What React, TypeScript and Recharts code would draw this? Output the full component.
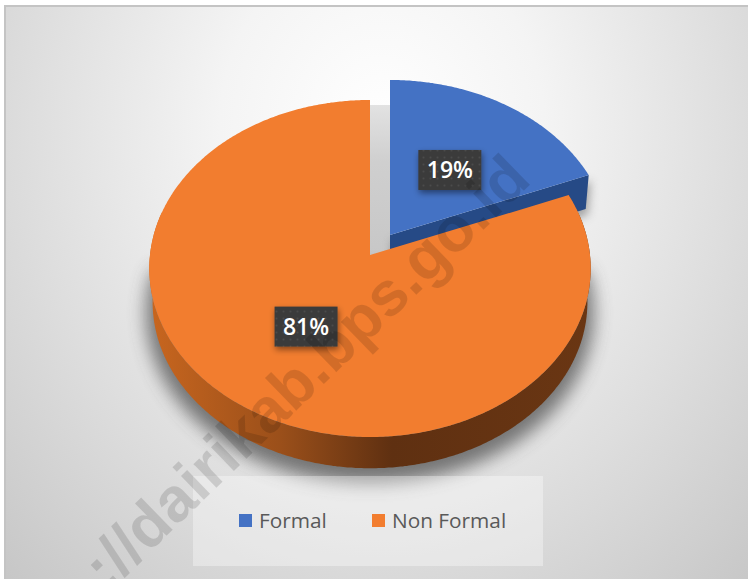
import React from "react";
import { PieChart, Pie, Legend } from "recharts";

const categories = ["Formal", "Non Formal"];
const shares = [19, 81];
const colors = ["#4472C4", "#F27D2F"];
const tableRows = categories.map((name, i) => ({ name, value: shares[i] }));

const WIDTH = 748;
const HEIGHT = 579;
const CX = 370;
const CY = 255;
const RADIUS = 220;
const TILT = 0.08;
const SQUASH = 0.761;
const DEPTH = 34;
const EXPLODE = { dx: 20, dy: -20 };

type Pt = [number, number];

const rad = (d: number) => (d * Math.PI) / 180;

// Perspective projection of a point of the disc (angle in degrees, f = radial share)
function project(x0: number, y0: number, r: number, deg: number, f = 1): Pt {
  const u = Math.cos(rad(deg)) * f;
  const v = Math.sin(rad(deg)) * f;
  const w = 1 + TILT * v;
  return [x0 + (r * u) / w, y0 - (r * SQUASH * v) / w];
}

function rim(x0: number, y0: number, r: number, from: number, to: number): Pt[] {
  const steps = Math.max(2, Math.ceil(Math.abs(to - from) * 2));
  const out: Pt[] = [];
  for (let i = 0; i <= steps; i++) out.push(project(x0, y0, r, from + ((to - from) * i) / steps));
  return out;
}

const toPath = (pts: Pt[]) =>
  pts.map((p, i) => `${i ? "L" : "M"}${p[0].toFixed(1)} ${p[1].toFixed(1)}`).join(" ") + " Z";

function Slice3D(props: any) {
  const { cx, cy, outerRadius, startAngle, endAngle, name } = props;
  const exploded = name === categories[0];
  const x0 = cx + (exploded ? EXPLODE.dx : 0);
  const y0 = cy + (exploded ? EXPLODE.dy : 0);
  const top = rim(x0, y0, outerRadius, startAngle, endAngle);
  const fill = colors[categories.indexOf(name)];

  if (exploded) {
    const corner = top[top.length - 1];
    const wall: Pt[] = [
      [x0, y0],
      corner,
      [corner[0] - 3, corner[1] + DEPTH],
      [x0, y0 + DEPTH],
    ];
    const gapTop = project(cx, cy, outerRadius, 90)[1] + 5;
    const gap: Pt[] = [
      [cx, gapTop],
      [x0, gapTop],
      [x0, y0 + DEPTH],
      [cx, cy + 4],
    ];
    return (
      <g>
        <defs>
          <filter id="blurA" x="-30%" y="-30%" width="160%" height="160%">
            <feGaussianBlur stdDeviation="5" />
          </filter>
          <linearGradient id="gapShade" x1="0" y1="0" x2="0" y2="1">
            <stop offset="0" stopColor="#e2e2e2" />
            <stop offset="0.35" stopColor="#cfcfcf" />
            <stop offset="1" stopColor="#c6c6c6" />
          </linearGradient>
        </defs>
        <path d={toPath(gap)} fill="url(#gapShade)" />
        <path d={toPath(wall)} fill="#555" opacity={0.5} filter="url(#blurA)" transform="translate(2 6)" />
        <path d={toPath(wall)} fill="#264A86" />
        <path d={toPath([[x0, y0], ...top])} fill={fill} />
      </g>
    );
  }

  const upper = rim(cx, cy, outerRadius, 165, 375);
  const lowerY = cy + DEPTH;
  const lowerR = outerRadius * 0.985;
  const lower = rim(cx, lowerY, lowerR, 375, 165);
  const shadow = rim(cx, lowerY + 10, lowerR * 1.03, 170, 370);
  return (
    <g>
      <defs>
        <filter id="blurB" x="-30%" y="-30%" width="160%" height="160%">
          <feGaussianBlur stdDeviation="9" />
        </filter>
        <linearGradient id="orangeWall" x1="0" y1="0" x2="1" y2="0">
          <stop offset="0" stopColor="#C8661F" />
          <stop offset="0.3" stopColor="#9A4F1A" />
          <stop offset="0.55" stopColor="#5F3011" />
          <stop offset="1" stopColor="#6A3613" />
        </linearGradient>
      </defs>
      <path d={toPath(shadow)} fill="#4a4a4a" opacity={0.72} filter="url(#blurB)" />
      <path d={toPath([...upper, ...lower])} fill="url(#orangeWall)" />
      <path d={toPath([[cx, cy], ...top])} fill={fill} />
    </g>
  );
}

function PercentLabel(props: any) {
  const { midAngle, percent, name } = props;
  const exploded = name === categories[0];
  const [x, y] = project(
    CX + (exploded ? EXPLODE.dx : 0),
    CY + (exploded ? EXPLODE.dy + 2 : 0),
    RADIUS,
    midAngle,
    0.5
  );
  const w = 63;
  const h = 40;
  return (
    <g>
      <defs>
        <pattern id="dots" width="7" height="7" patternUnits="userSpaceOnUse">
          <rect width="7" height="7" fill="#3B3B3B" />
          <circle cx="3.5" cy="3.5" r="1" fill="#4c4c4c" />
        </pattern>
        <filter id="boxShadow" x="-30%" y="-30%" width="160%" height="170%">
          <feDropShadow dx="1" dy="3" stdDeviation="3" floodColor="#000" floodOpacity="0.45" />
        </filter>
      </defs>
      <rect x={x - w / 2} y={y - h / 2} width={w} height={h} fill="url(#dots)" filter="url(#boxShadow)" />
      <text
        x={x}
        y={y + 8}
        textAnchor="middle"
        fontFamily="'Open Sans', 'Noto Sans', sans-serif"
        fontWeight={600}
        fontSize={23}
        fill="#FFFFFF"
      >
        {Math.round(percent * 100)}%
      </text>
    </g>
  );
}

function LegendBody({ payload }: any) {
  const iconX = [46, 179];
  const textX = [66, 199];
  return (
    <div style={{ position: "relative", width: 350, height: 90 }}>
      {(payload || []).map((item: any, i: number) => (
        <React.Fragment key={item.value}>
          <span
            style={{
              position: "absolute",
              left: iconX[i],
              top: 38,
              width: 13,
              height: 13,
              background: colors[categories.indexOf(item.value)],
            }}
          />
          <span
            style={{
              position: "absolute",
              left: textX[i],
              top: 29,
              fontFamily: "'Open Sans', 'Noto Sans', sans-serif",
              fontSize: 20.8,
              lineHeight: "30px",
              color: "#595959",
              whiteSpace: "nowrap",
            }}
          >
            {item.value}
          </span>
        </React.Fragment>
      ))}
    </div>
  );
}

export default function App() {
  return (
    <div style={{ position: "absolute", left: 0, top: 0, width: WIDTH, height: HEIGHT, overflow: "hidden", background: "#fff" }}>
      <div
        style={{
          position: "absolute",
          left: 4,
          top: 5,
          width: 744,
          height: 574,
          boxSizing: "border-box",
          borderTop: "2px solid #c4c4c4",
          borderLeft: "2px solid #c4c4c4",
          background:
            "radial-gradient(ellipse 540px 620px at 376px 120px, #ffffff 0%, #f4f4f4 30%, #dedede 65%, #c4c4c4 105%)",
        }}
      />
      <div style={{ position: "absolute", left: 0, top: 0 }}>
        <PieChart width={WIDTH} height={HEIGHT} margin={{ top: 0, right: 0, bottom: 0, left: 0 }}>
          <Pie
            data={tableRows}
            dataKey="value"
            nameKey="name"
            cx={CX}
            cy={CY}
            outerRadius={RADIUS}
            startAngle={90}
            endAngle={-270}
            stroke="none"
            shape={Slice3D}
            label={PercentLabel}
            labelLine={false}
            isAnimationActive={false}
          />
          <Legend
            content={LegendBody}
            wrapperStyle={{
              position: "absolute",
              left: 193,
              top: 476,
              bottom: "auto",
              width: 350,
              height: 90,
              background: "rgba(255,255,255,0.35)",
            }}
          />
        </PieChart>
      </div>
      <svg width={WIDTH} height={HEIGHT} style={{ position: "absolute", left: 0, top: 0, pointerEvents: "none" }}>
        <text
          transform="translate(533 182) rotate(-44)"
          textAnchor="end"
          fontFamily="'Liberation Sans', Arial, sans-serif"
          fontWeight={700}
          fontSize={62.5}
          fill="rgba(0,0,0,0.13)"
        >
          ://dairikab.bps.go.id
        </text>
      </svg>
    </div>
  );
}
